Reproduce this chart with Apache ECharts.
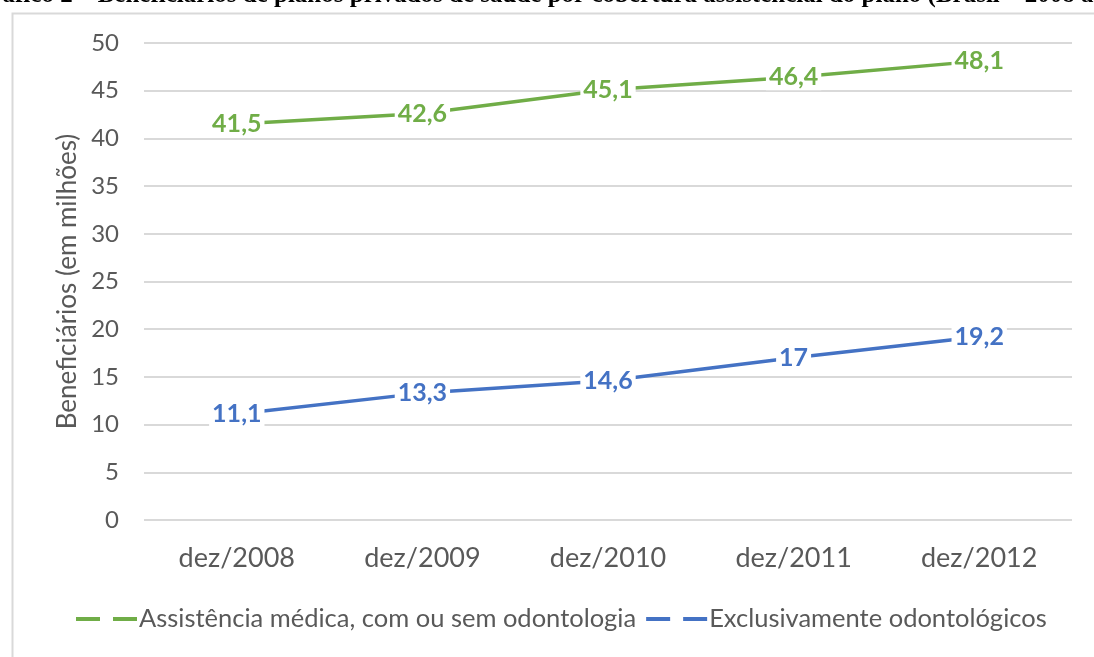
<!DOCTYPE html>
<html><head><meta charset="utf-8">
<script src="https://cdn.jsdelivr.net/npm/echarts@6/dist/echarts.min.js"></script>
<style>html,body{margin:0;padding:0;background:#fff}#c{width:1094px;height:657px}</style>
</head><body><div id="c"></div>
<script>
const categories = ['dez/2008','dez/2009','dez/2010','dez/2011','dez/2012'];
const medica = [41.5, 42.6, 45.1, 46.4, 48.1];
const odonto = [11.1, 13.3, 14.6, 17, 19.2];
const seriesNames = ['Assistência médica, com ou sem odontologia','Exclusivamente odontológicos'];
const titleText = 'Gráfico 2 – Beneficiários de planos privados de saúde por cobertura assistencial do plano (Brasil – 2008 a 2012)';
const fmt = v => String(v).replace('.', ',');
const chart = echarts.init(document.getElementById('c'), null, {renderer:'canvas'});
const icon = 'path://M0,0H24V4H0Z M37,0H61V4H37Z';
const FF = 'Lato';
function mk(name, data, color){
  return {
    name, type:'line', data, symbol:'circle', symbolSize:1, showSymbol:true,
    lineStyle:{color, width:3.5}, itemStyle:{color},
    label:{show:true, position:'inside', formatter:p=>fmt(p.value),
      color, fontWeight:'bold', fontSize:25, fontFamily:FF,
      backgroundColor:'#fff', padding:[1,3,0,3]},
    labelLayout:{hideOverlap:false},
    emphasis:{disabled:true},
    z:3
  };
}
chart.setOption({
  animation:false,
  graphic:[
    {type:'rect', left:10, top:11, shape:{width:1200, height:800}, style:{fill:'none', stroke:'#d9d9d9', lineWidth:2}, silent:true, z:-1},
    {type:'text', x:-28, y:8, style:{text:titleText, font:'bold 25px "Liberation Serif"', fill:'#000', textBaseline:'alphabetic', verticalAlign:'bottom'}, z:10}
  ],
  grid:{left:144, right:22, top:43, bottom:137},
  xAxis:{type:'category', data:categories, boundaryGap:true,
    axisLine:{show:false}, axisTick:{show:false},
    axisLabel:{color:'#595959', fontSize:27, fontFamily:FF, margin:25}},
  yAxis:{type:'value', min:0, max:50, interval:5,
    name:'Beneficiários (em milhões)', nameLocation:'middle', nameGap:63,
    nameTextStyle:{color:'#595959', fontSize:26, fontFamily:FF},
    axisLabel:{color:'#595959', fontSize:24, fontFamily:FF, margin:25},
    splitLine:{lineStyle:{color:'#d9d9d9', width:2}}},
  legend:{bottom:20, left:71, itemWidth:61, itemHeight:4, itemGap:10,
    textStyle:{color:'#595959', fontSize:25.5, fontFamily:FF, padding:[0,0,0,-3]},
    data:[{name:seriesNames[0], icon}, {name:seriesNames[1], icon}]},
  series:[mk(seriesNames[0], medica, '#70ad47'), mk(seriesNames[1], odonto, '#4472c4')]
});
</script></body></html>
